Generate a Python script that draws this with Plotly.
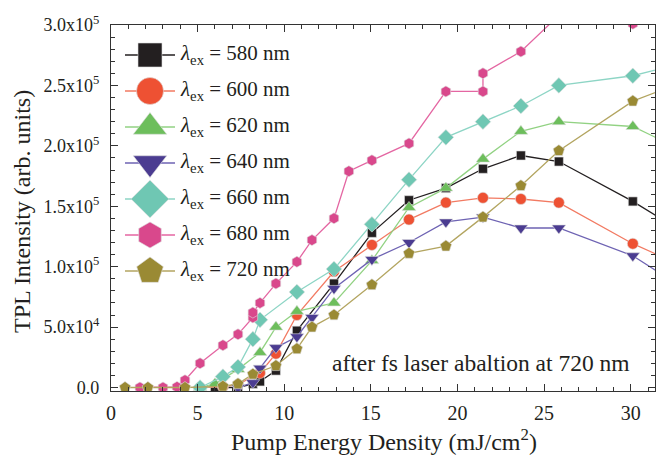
import plotly.graph_objects as go

# ---------------- data ----------------
x_580 = [6.0, 7.33, 8.19, 8.6, 9.52, 10.73, 12.87, 15.06, 17.2, 19.33, 21.47, 23.66, 25.85, 30.12, 32.3]
y_580 = [0, 0, 3000, 5000, 14000, 47000, 86000, 128000, 155000, 165000, 181000, 192000, 187000, 154000, 135000]

x_600 = [5.14, 6.46, 7.33, 8.6, 9.52, 10.73, 12.87, 15.06, 17.2, 19.33, 21.47, 23.66, 25.85, 30.12, 32.3]
y_600 = [0, 500, 2500, 12000, 28000, 60000, 96000, 118000, 139000, 153000, 157000, 156000, 153000, 119000, 105000]

x_620 = [5.14, 6.0, 7.33, 8.6, 9.52, 10.73, 12.87, 15.06, 17.2, 19.33, 21.47, 23.66, 25.85, 30.12, 32.3]
y_620 = [0, 3000, 15000, 29000, 50000, 63000, 70000, 105000, 149000, 165000, 189000, 212000, 220000, 216000, 201000]

x_640 = [7.33, 8.19, 8.6, 9.52, 10.73, 11.6, 12.87, 15.06, 17.2, 19.33, 21.47, 23.66, 25.85, 30.12, 32.3]
y_640 = [0, 4000, 16000, 33000, 42000, 58000, 82000, 106000, 120000, 137000, 141000, 132000, 132000, 109000, 89000]

x_660 = [5.14, 6.46, 7.33, 8.19, 8.6, 10.73, 12.87, 15.06, 17.2, 19.33, 21.47, 23.66, 25.85, 30.12, 32.3]
y_660 = [0, 9000, 17000, 40000, 56000, 79000, 98000, 135000, 172000, 207000, 220000, 233000, 250000, 258000, 266000]

x_680 = [1.67, 3.0, 3.81, 4.27, 5.14, 6.46, 7.33, 8.19, 8.19, 8.6, 9.52, 10.73, 11.6, 12.87,
         13.73, 15.06, 17.2, 19.33, 21.47, 21.47, 23.66, 25.85, 30.12, 32.3]
y_680 = [0, 0, 500, 6000, 20000, 35000, 44000, 58000, 62000, 70000, 86000, 104000, 122000, 140000,
         179000, 188000, 202000, 245000, 245000, 260000, 278000, 308000, 301000, 306000]

x_720 = [0.81, 2.13, 4.27, 6.46, 7.33, 8.19, 9.52, 10.73, 11.6, 12.87, 15.06, 17.2, 19.33, 21.47, 23.66, 25.85, 30.12, 32.3]
y_720 = [0, 0, 0, 1000, 3000, 11000, 18000, 32000, 50000, 60000, 85000, 111000, 117000, 141000, 167000, 196000, 237000, 249000]

labels = ["580", "600", "620", "640", "660", "680", "720"]
y_ticks = [0, 50000, 100000, 150000, 200000, 250000, 300000]
y_ticktext = ["0.0", "5.0x10<sup>4</sup>", "1.0x10<sup>5</sup>", "1.5x10<sup>5</sup>",
              "2.0x10<sup>5</sup>", "2.5x10<sup>5</sup>", "3.0x10<sup>5</sup>"]

# ---------------- styles ----------------
FONT = "Liberation Serif"
series = [
    (x_580, y_580, "square", "#231f20", "#231f20", 9, 24),
    (x_600, y_600, "circle", "#ee5133", "#f27a62", 11, 27),
    (x_620, y_620, "triangle-up", "#6dbe5c", "#92d283", 12, 29),
    (x_640, y_640, "triangle-down", "#4b3c91", "#6e63b3", 12, 29),
    (x_660, y_660, "diamond", "#6fc7b3", "#8dd5c5", 12, 29),
    (x_680, y_680, "hexagon", "#d9488c", "#e466a2", 11, 26),
    (x_720, y_720, "pentagon", "#9a8a34", "#b3a560", 12, 28),
]

fig = go.Figure()
for (xs, ys, sym, mc, lc, ms, _), lab in zip(series, labels):
    fig.add_trace(go.Scatter(
        x=xs, y=ys, mode="lines+markers", name=f"{lab} nm",
        line=dict(color=lc, width=1.3),
        marker=dict(symbol=sym, size=ms, color=mc, line=dict(color="#dddddd", width=0.6)),
        showlegend=False,
    ))

# ---------------- custom legend on a hidden pixel-scaled overlay axis ----------------
leg_y = [30, 66, 102, 138, 174, 210, 246]
for (xs, ys, sym, mc, lc, ms, lms), lab, ly in zip(series, labels, leg_y):
    fig.add_trace(go.Scatter(
        x=[14, 64], y=[ly, ly], mode="lines", line=dict(color=lc, width=1.3),
        xaxis="x2", yaxis="y2", showlegend=False, hoverinfo="skip"))
    fig.add_trace(go.Scatter(
        x=[39], y=[ly], mode="markers",
        marker=dict(symbol=sym, size=lms, color=mc, line=dict(color="#dddddd", width=0.6)),
        xaxis="x2", yaxis="y2", showlegend=False, hoverinfo="skip"))
    fig.add_trace(go.Scatter(
        x=[70], y=[ly], mode="text", textposition="middle right",
        text=[f"<i>λ</i><sub>ex</sub> = {lab} nm"],
        textfont=dict(family=FONT, size=21, color="#231f20"),
        xaxis="x2", yaxis="y2", showlegend=False, hoverinfo="skip"))

axis_common = dict(
    showline=True, linecolor="#333333", linewidth=1.2, mirror="allticks",
    ticks="inside", ticklen=7, tickwidth=1.2, tickcolor="#333333",
    showgrid=False, zeroline=False,
)

fig.update_layout(
    width=657, height=457,
    margin=dict(l=111, r=2, t=25, b=66),
    paper_bgcolor="white", plot_bgcolor="white",
    font=dict(family=FONT, color="#231f20"),
    xaxis=dict(range=[0, 31.4], tickmode="linear", tick0=0, dtick=5,
               minor=dict(tickmode="linear", tick0=0, dtick=1, ticks="inside", ticklen=4,
                          tickwidth=1, tickcolor="#333333"),
               tickfont=dict(family=FONT, size=20, color="#231f20"),
               ticklabelstandoff=4, **axis_common),
    yaxis=dict(range=[-2900, 300000], tickmode="array", tickvals=y_ticks, ticktext=y_ticktext,
               minor=dict(tickmode="linear", tick0=0, dtick=10000, ticks="inside", ticklen=4,
                          tickwidth=1, tickcolor="#333333"),
               tickfont=dict(family=FONT, size=18, color="#231f20"),
               ticklabelstandoff=7, **axis_common),
    xaxis2=dict(range=[0, 544], domain=[0, 1], anchor="y2", overlaying="x", visible=False),
    yaxis2=dict(range=[366, 0], domain=[0, 1], anchor="x2", overlaying="y", visible=False),
    annotations=[
        dict(text="TPL Intensity (arb. units)", xref="paper", yref="paper",
             x=-0.165, y=0.49, textangle=-90, showarrow=False,
             font=dict(family=FONT, size=24, color="#231f20"), xanchor="center", yanchor="middle"),
        dict(text="Pump Energy Density (mJ/cm<sup>2</sup>)", xref="paper", yref="paper",
             x=0.502, y=-0.135, showarrow=False,
             font=dict(family=FONT, size=24, color="#231f20"), xanchor="center", yanchor="middle"),
        dict(text="after fs laser abaltion at 720 nm", xref="paper", yref="paper",
             x=0.4026, y=0.077, showarrow=False,
             font=dict(family=FONT, size=23.5, color="#231f20"), xanchor="left", yanchor="middle"),
    ],
)

fig.write_html("out.html")
